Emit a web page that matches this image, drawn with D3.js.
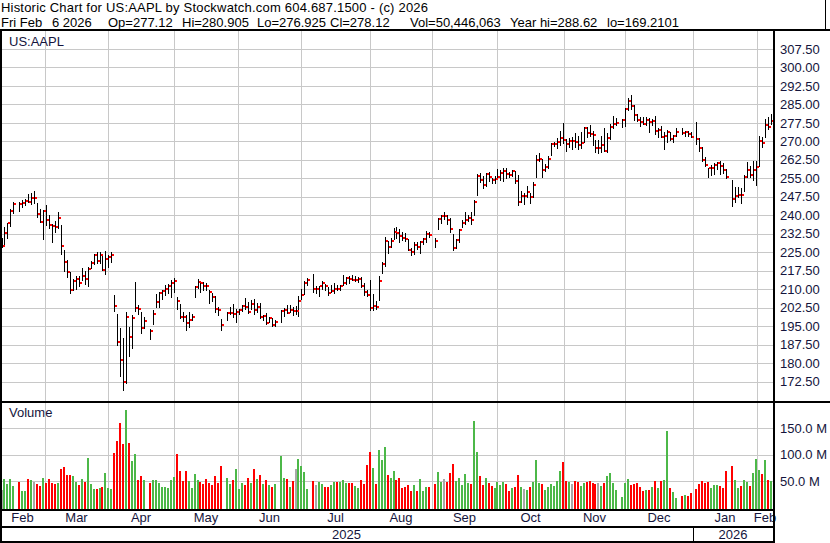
<!DOCTYPE html>
<html>
<head>
<meta charset="utf-8">
<script src="https://cdn.jsdelivr.net/npm/d3@7"></script>
<style>
  body { margin: 0; background: #fff; }
  svg { display: block; }
  text { font-family: "Liberation Sans", Arial, sans-serif; font-size: 13px; }
</style>
</head>
<body>
<svg id="chart" width="830" height="543"></svg>
<script>
// --- data (one entry per trading day, Feb 10 2025 .. Feb 6 2026)
var holidays = ["2025-02-17","2025-04-18","2025-05-26","2025-06-19","2025-07-04","2025-09-01",
                "2025-11-27","2025-12-25","2026-01-01","2026-01-19"];

var hi = [
  230.59,235.23,236.96,242.34,245.55,245.18,246.01,246.78,248.69,248.86,250.00,244.98,242.46,242.09,
  244.03,240.07,236.55,237.86,241.37,236.16,225.84,221.75,216.84,213.95,215.22,215.15,218.76,217.49,218.84,221.48,224.10,225.02,224.99,223.81,225.62,
  223.68,225.19,207.49,199.88,194.15,190.34,200.61,194.78,199.54,212.94,203.51,200.70,198.83,193.80,201.59,208.00,208.83,209.75,211.50,212.24,213.58,
  214.56,206.99,204.10,200.65,199.44,200.54,200.02,211.27,213.94,213.40,212.96,212.57,209.48,208.62,207.04,202.75,197.70,200.74,202.73,203.81,201.96,
  202.13,203.77,206.24,204.75,205.70,206.00,204.35,204.50,199.68,200.37,198.69,198.39,197.57,201.70,202.30,203.44,203.67,202.64,203.22,207.39,
  210.19,213.34,214.65,216.23,211.43,211.33,213.48,212.13,210.91,211.89,212.40,211.80,211.79,215.78,214.95,215.15,215.69,215.24,214.85,214.81,212.39,209.84,
  213.58,207.88,205.34,215.38,220.85,231.00,229.56,230.80,235.00,235.12,234.28,233.12,232.87,230.47,226.52,229.09,229.30,229.49,230.90,233.41,233.38,
  230.85,238.85,239.90,241.32,240.15,238.78,232.42,230.45,234.51,238.19,241.22,240.10,241.20,246.30,256.64,257.34,255.74,257.17,257.60,255.00,255.92,
  258.79,258.18,259.24,259.07,257.40,258.52,258.00,256.38,249.69,248.85,251.82,249.04,253.38,264.38,265.29,262.85,260.62,264.13,269.12,269.89,271.41,274.14,277.32,
  270.85,271.49,271.70,273.40,272.29,273.73,275.91,275.73,276.70,274.14,270.49,270.71,272.21,275.43,273.33,277.00,280.38,279.53,279.00,
  283.42,287.40,288.62,284.73,281.14,279.67,280.03,279.75,279.59,279.22,280.15,275.50,276.16,273.63,274.60,273.88,272.50,275.43,275.37,274.36,274.08,273.68,
  277.84,271.51,267.55,263.68,259.29,260.21,261.30,261.80,261.82,261.04,258.90,254.50,251.60,251.60,251.00,256.30,261.80,259.90,261.90,261.90,
  272.20,271.90,278.90,279.90,280.905
];
var lo = [
  227.20,228.13,230.68,235.57,240.99,241.84,243.16,244.29,245.22,244.42,244.91,239.13,237.06,230.20,
  236.11,234.68,229.23,233.16,234.76,224.22,217.45,214.91,208.42,209.58,209.97,211.49,213.75,212.22,211.28,218.58,220.08,220.47,220.56,217.68,216.23,
  218.90,221.02,201.25,187.34,174.62,169.21,171.89,183.00,186.06,201.16,199.80,192.37,194.42,189.81,195.97,202.80,202.94,206.20,207.46,208.37,206.67,
  208.90,202.16,198.21,197.02,193.25,194.67,197.54,206.75,210.58,209.00,209.54,209.77,204.26,205.03,200.71,199.70,193.46,197.43,199.90,198.51,196.78,
  200.12,200.96,202.10,200.15,202.05,200.02,200.57,198.41,197.36,195.70,196.56,195.21,195.07,196.86,198.96,200.20,200.62,199.46,200.00,199.26,
  206.14,208.14,211.81,208.80,208.45,207.22,210.03,209.86,207.54,208.92,208.64,209.59,209.70,211.63,212.23,212.41,213.53,213.40,213.06,210.82,207.72,207.16,
  201.50,201.68,202.16,205.59,216.58,219.25,224.76,227.07,230.43,230.85,229.34,230.11,229.35,225.77,223.78,224.26,226.23,224.69,228.26,229.34,231.37,
  226.97,234.36,236.74,238.49,236.34,233.36,225.95,226.65,229.02,235.03,236.32,237.73,236.65,240.21,248.12,253.58,251.04,251.71,253.78,253.01,253.11,
  254.93,254.15,253.95,255.05,255.43,256.11,253.14,244.00,245.56,244.70,247.47,245.13,247.27,255.63,261.83,255.43,258.01,259.18,264.65,268.15,267.11,268.48,269.16,
  266.25,267.62,266.93,267.89,266.77,267.46,269.80,271.70,272.09,268.48,265.73,265.32,265.50,265.92,265.67,270.90,275.25,276.63,275.99,
  276.14,282.63,283.30,278.59,278.05,276.15,276.92,276.44,273.81,276.82,272.84,271.79,271.64,266.95,269.90,270.51,269.56,272.20,272.86,272.35,272.28,271.75,
  269.00,266.14,262.12,259.81,255.70,256.22,256.80,258.80,256.71,257.05,254.93,243.90,245.18,247.50,245.00,249.80,255.40,255.70,254.50,252.20,
  260.00,267.60,271.70,275.00,276.925
];
var cl = [
  227.65,232.62,236.87,241.53,244.60,244.47,244.87,245.83,245.55,247.10,247.04,240.36,237.30,241.84,
  238.03,235.93,235.74,235.33,239.07,227.48,220.84,216.98,209.68,213.49,214.00,212.69,215.24,214.10,218.27,220.73,223.75,221.53,223.85,217.90,222.13,
  223.19,223.89,203.19,188.38,181.46,172.42,198.85,190.42,198.15,202.52,202.14,194.27,196.98,193.16,199.74,204.60,208.37,209.28,210.14,211.21,212.50,
  213.32,205.35,198.89,198.51,196.25,197.49,198.53,210.79,212.93,212.33,211.45,211.26,208.78,206.86,202.09,201.36,195.27,200.21,200.42,199.95,200.85,
  201.70,203.27,202.82,200.63,203.92,201.45,202.67,198.78,199.20,196.45,198.42,195.64,196.58,201.00,201.50,200.30,201.56,201.00,201.08,205.17,
  207.82,212.44,213.55,209.95,210.01,211.14,212.41,211.16,208.62,209.11,210.16,210.02,211.18,212.48,214.40,214.15,213.76,213.88,214.05,211.27,209.05,207.57,
  202.38,203.35,202.92,213.25,220.03,229.35,227.18,229.65,233.33,232.78,231.59,230.89,230.56,226.01,224.90,227.76,227.16,229.31,230.49,232.56,232.14,
  229.72,238.47,239.78,239.69,237.88,234.35,226.79,230.03,234.07,236.70,238.15,238.99,237.88,245.50,256.08,254.43,252.31,256.87,255.46,254.43,254.63,
  255.45,257.13,258.02,256.69,256.48,258.06,254.04,245.27,247.66,247.77,249.34,247.45,252.29,262.24,262.77,258.45,259.58,262.82,268.81,269.00,269.70,271.40,270.37,
  269.05,270.04,270.14,269.77,268.47,269.43,275.25,273.47,272.95,272.41,267.46,267.44,268.56,266.25,271.49,275.92,276.97,277.55,278.85,
  283.10,286.19,284.15,280.70,278.78,277.89,277.18,278.78,278.03,278.28,274.11,274.61,271.84,272.19,273.67,270.97,272.36,273.81,273.40,273.76,273.08,271.86,
  271.01,267.26,262.36,260.33,259.04,259.37,260.25,261.05,259.96,258.21,255.53,246.70,247.65,248.35,248.04,255.41,258.27,256.44,258.28,259.48,
  270.01,269.48,276.49,275.91,278.12
];
// volume, millions of shares
var vol = [
  33.1,53.7,45.2,53.6,40.9,48.8,32.2,32.0,53.2,51.3,48.0,44.4,41.2,56.8,
  47.2,53.8,47.2,45.2,46.3,72.1,76.1,62.5,61.4,60.1,48.1,42.4,54.4,48.9,94.1,44.3,34.5,34.5,37.1,39.8,65.3,
  36.4,35.9,103.4,125.9,160.5,120.3,184.4,121.9,87.4,101.4,51.3,59.7,52.2,46.7,52.9,52.9,47.3,38.2,38.7,36.8,52.3,
  57.4,101.0,69.0,51.2,68.5,50.5,36.4,63.8,51.9,49.3,45.0,54.7,46.1,42.5,59.2,46.7,78.4,56.3,45.3,51.4,73.1,
  35.4,46.4,43.6,55.2,46.6,72.9,54.7,60.9,43.9,51.4,43.0,38.9,45.4,96.8,55.8,54.1,39.5,50.8,73.2,91.9,
  78.8,67.9,34.9,50.2,42.8,48.7,44.4,39.8,38.8,42.3,47.5,48.1,48.9,51.4,46.4,47.0,46.0,40.3,37.9,51.4,45.5,80.7,
  104.4,75.1,44.2,108.5,90.2,113.9,61.8,55.6,69.9,51.9,56.0,37.5,39.4,42.3,30.6,42.5,30.9,54.6,31.3,38.1,39.4,
  44.1,66.4,47.5,54.9,48.9,66.3,83.4,50.2,55.8,42.7,63.4,46.5,44.2,163.7,105.5,60.3,42.3,55.2,46.1,40.1,37.7,
  48.7,42.6,49.2,44.7,31.9,36.5,38.3,61.9,38.1,35.5,33.9,39.8,49.1,90.5,46.7,45.0,32.8,38.3,44.9,41.5,51.1,69.9,86.2,
  50.2,49.3,43.7,51.2,48.2,41.3,46.2,48.4,49.6,47.4,45.0,45.7,40.4,45.8,59.0,65.6,46.9,33.4,20.1,
  46.6,53.7,43.5,43.9,47.3,38.2,32.2,33.0,33.2,39.5,50.4,37.6,50.1,51.6,144.6,36.6,29.6,17.9,21.5,23.7,22.1,27.3,
  36.0,43.7,49.5,45.6,47.5,38.0,42.0,42.0,40.0,38.0,70.0,78.0,53.0,38.0,40.0,53.0,47.5,40.0,64.7,91.0,
  72.0,62.8,89.4,51.4,50.4
];

var priceTicks = [172.5,180,187.5,195,202.5,210,217.5,225,232.5,240,247.5,255,262.5,270,277.5,285,292.5,300,307.5];
var volTicks = [50,100,150];
var monthNames = ["Feb","Mar","Apr","May","Jun","Jul","Aug","Sep","Oct","Nov","Dec","Jan","Feb"];
var yearNames = ["2025","2026"];

var titleLine = "Historic Chart for US:AAPL by Stockwatch.com 604.687.1500 - (c) 2026";
var quoteFields = ["Fri Feb", "6 2026", "Op=277.12", "Hi=280.905", "Lo=276.925", "Cl=278.12",
                   "Vol=50,446,063", "Year hi=288.62", "lo=169.2101"];
var quoteX = [1, 52, 108, 182, 257, 330, 410, 510, 607];

// --- layout
var W = 830, H = 543;
var plotL = 2, plotR = 773;
var priceTop = 31, priceBot = 401;
var volTop = 403, volBot = 509;
var axisCol = "#14143c", gridCol = "#c8c8c8";
var upCol = "#4cb848", dnCol = "#ff0000", flatCol = "#a8a8a8";

var svg = d3.select("#chart");
var fmt = d3.timeFormat("%Y-%m-%d");

// weekday slots, holidays stay as empty slots
var slots = d3.timeDay.range(new Date(2025, 1, 10), new Date(2026, 1, 7))
  .filter(function(d){ return d.getDay() !== 0 && d.getDay() !== 6; });
var slotOf = new Map(slots.map(function(d, i){ return [fmt(d), i]; }));
var tradeSlot = [];
slots.forEach(function(d, i){ if (holidays.indexOf(fmt(d)) < 0) tradeSlot.push(i); });

var x = d3.scaleLinear().domain([0, slots.length - 1]).range([1.5, 770.7]);
var y = d3.scaleLinear().domain([172.5, 307.5]).range([381.6, 48.9]);
var yv = d3.scaleLinear().domain([0, 150]).range([507.6, 428.3]);

// month grid positions: first trading weekday of month, or the gap before Monday
var months = d3.timeMonth.range(new Date(2025, 2, 1), new Date(2026, 1, 7));
var gridX = months.map(function(m){
  var wd = m.getDay();
  if (wd > 0 && wd < 6) return Math.round(x(slotOf.get(fmt(m))));
  return Math.round(x(slotOf.get(fmt(d3.timeMonday.ceil(m))) - 0.5));
});

svg.append("rect").attr("width", W).attr("height", H).attr("fill", "#fff");

// grids
var grid = svg.append("g").attr("shape-rendering", "crispEdges").attr("stroke", gridCol);
grid.selectAll(".hp").data(priceTicks).enter().append("line")
  .attr("x1", plotL).attr("x2", plotR)
  .attr("y1", function(d){ return Math.round(y(d)) + 0.5; })
  .attr("y2", function(d){ return Math.round(y(d)) + 0.5; });
grid.selectAll(".hv").data(volTicks).enter().append("line")
  .attr("x1", plotL).attr("x2", plotR)
  .attr("y1", function(d){ return Math.round(yv(d)) + 0.5; })
  .attr("y2", function(d){ return Math.round(yv(d)) + 0.5; });
grid.selectAll(".vg").data(gridX).enter().append("line")
  .attr("x1", function(d){ return d + 0.5; }).attr("x2", function(d){ return d + 0.5; })
  .attr("y1", priceTop).attr("y2", priceBot);
grid.selectAll(".vg2").data(gridX).enter().append("line")
  .attr("x1", function(d){ return d + 0.5; }).attr("x2", function(d){ return d + 0.5; })
  .attr("y1", volTop).attr("y2", volBot);

// price bars: high-low stick with red close tick
var bars = svg.append("g").attr("shape-rendering", "crispEdges");
bars.selectAll("line").data(cl).enter().append("line")
  .attr("x1", function(d, i){ return Math.round(x(tradeSlot[i])) + 0.5; })
  .attr("x2", function(d, i){ return Math.round(x(tradeSlot[i])) + 0.5; })
  .attr("y1", function(d, i){ return Math.round(y(hi[i])); })
  .attr("y2", function(d, i){ return Math.round(y(lo[i])) + 1; })
  .attr("stroke", "#000");
bars.selectAll("rect").data(cl).enter().append("rect")
  .attr("x", function(d, i){ return Math.round(x(tradeSlot[i])) + 1; })
  .attr("y", function(d){ return Math.round(y(d)) - 1; })
  .attr("width", 2).attr("height", 2)
  .attr("fill", dnCol);

// volume bars coloured by change in close
var vbars = svg.append("g").attr("shape-rendering", "crispEdges");
vbars.selectAll("rect").data(vol).enter().append("rect")
  .attr("x", function(d, i){ return Math.round(x(tradeSlot[i])) - 1; })
  .attr("y", function(d){ return Math.round(yv(d)); })
  .attr("width", 2)
  .attr("height", function(d){ return Math.max(0, volBot - Math.round(yv(d))); })
  .attr("fill", function(d, i){
    if (i === 0) return flatCol;
    var ch = cl[i] - cl[i - 1];
    if (Math.abs(ch) < 0.115) return flatCol;
    return ch > 0 ? upCol : dnCol;
  });

// panel labels
svg.append("text").attr("x", 9).attr("y", 46).attr("fill", axisCol).text("US:AAPL");
svg.append("text").attr("x", 9).attr("y", 417).attr("fill", axisCol).text("Volume");

// right axes
var pAxis = svg.append("g").attr("transform", "translate(775,0)")
  .call(d3.axisRight(y).tickValues(priceTicks).tickSize(0).tickPadding(5).tickFormat(d3.format(".2f")));
var vAxis = svg.append("g").attr("transform", "translate(775,0)")
  .call(d3.axisRight(yv).tickValues(volTicks).tickSize(0).tickPadding(5)
    .tickFormat(function(d){ return d.toFixed(1) + " M"; }));
[pAxis, vAxis].forEach(function(g){
  g.select(".domain").remove();
  g.selectAll("text").attr("fill", axisCol)
    .style("font-family", "'Liberation Sans', Arial, sans-serif").style("font-size", "13px");
});

// month and year labels
var bounds = [0].concat(gridX, [plotR]);
svg.selectAll(".mon").data(monthNames).enter().append("text")
  .attr("x", function(d, i){ return (bounds[i] + bounds[i + 1]) / 2; })
  .attr("y", 522).attr("text-anchor", "middle").attr("fill", axisCol).text(function(d){ return d; });
var janX = gridX[monthNames.length - 3];
var yearBounds = [0, janX, plotR];
svg.selectAll(".yr").data(yearNames).enter().append("text")
  .attr("x", function(d, i){ return (yearBounds[i] + yearBounds[i + 1]) / 2; })
  .attr("y", 539).attr("text-anchor", "middle").attr("fill", axisCol).text(function(d){ return d; });

// header
svg.append("text").attr("x", 1).attr("y", 11.5).attr("fill", "#000")
  .attr("textLength", 427).attr("lengthAdjust", "spacing").text(titleLine);
svg.selectAll(".quote").data(quoteFields).enter().append("text")
  .attr("x", function(d, i){ return quoteX[i]; }).attr("y", 26.5).attr("fill", "#000")
  .text(function(d){ return d; });

// frame lines
var frame = svg.append("g").attr("fill", "#000").attr("shape-rendering", "crispEdges");
[[0, 29, W, 2], [825, 0, 1, 30], [0, 30, 2, H - 30], [773, 30, 2, H - 30],
 [0, 401, W, 2], [0, 509, plotR, 2], [0, 526, plotR, 2], [0, 541, plotR, 2],
 [janX, 527, 1, 14]].forEach(function(r){
  frame.append("rect").attr("x", r[0]).attr("y", r[1]).attr("width", r[2]).attr("height", r[3]);
});
</script>
</body>
</html>
